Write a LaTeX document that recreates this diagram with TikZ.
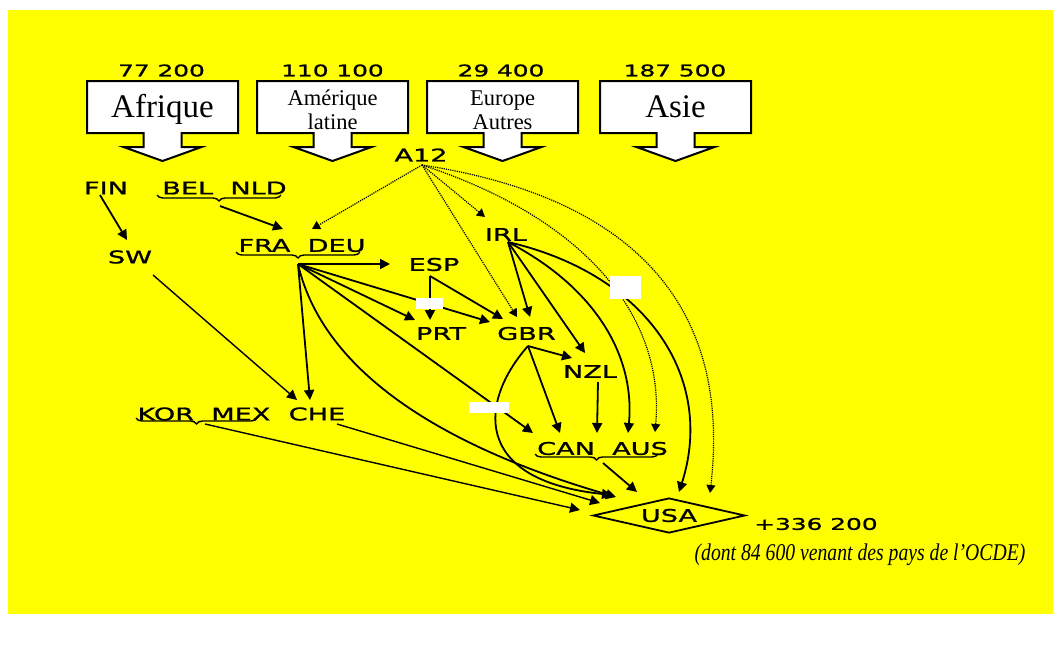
\documentclass[tikz,border=0pt]{standalone}
\usepackage{fontspec}
\usetikzlibrary{arrows.meta,decorations.pathreplacing,shapes.geometric}
\newfontfamily\labfont[FakeStretch=1.55,FakeBold=1.2]{DejaVu Sans}
\newfontfamily\boxfont{Liberation Serif}
\newfontfamily\notefont[FakeStretch=0.82]{Liberation Serif}
\definecolor{bgyellow}{RGB}{255,255,0}
\tikzset{
  lab/.style={font=\labfont\fontsize{17.5}{20}\selectfont, inner sep=0pt},
  num/.style={font=\labfont\fontsize{16}{19}\selectfont, inner sep=0pt},
  bigsrc/.style={font=\boxfont\fontsize{33}{36}\selectfont, inner sep=0pt, anchor=base},
  smallsrc/.style={font=\boxfont\fontsize{22.5}{24}\selectfont, inner sep=0pt, align=center},
  arr/.style={-{Triangle[length=10pt,width=10pt]}, line width=1.8pt},
  thinarr/.style={-{Triangle[length=10pt,width=10pt]}, line width=1.4pt},
  darr/.style={-{Triangle[length=8pt,width=9pt]}, line width=1.2pt, densely dotted},
  brc/.style={decorate, decoration={brace, mirror, amplitude=6pt}, line width=1.4pt},
  srcshape/.style={draw, fill=white, line width=2pt, line join=miter},
  hider/.style={fill=white, draw=none}
}
\begin{document}
\begin{tikzpicture}[x=1pt,y=-1pt]
\useasboundingbox (0,0) rectangle (1053,646);
\fill[white] (0,0) rectangle (1053,646);
\fill[bgyellow] (8,10) rectangle (1053,614);

% source boxes with arrows
\foreach \cx in {162.5,332.5,502.5,675.5}{
  \draw[srcshape] (\cx-75.5,81) -- (\cx+75.5,81) -- (\cx+75.5,133) -- (\cx+19,133) -- (\cx+19,147)
    -- (\cx+39,147) -- (\cx,161) -- (\cx-39,147) -- (\cx-19,147) -- (\cx-19,133) -- (\cx-75.5,133) -- cycle;
}
\node[bigsrc] (afr) at (162.5,117) {Afrique};
\node[smallsrc] (aml) at (332.5,110) {Amérique\\latine};
\node[smallsrc] (eur) at (502.5,110) {Europe\\Autres};
\node[bigsrc] (asi) at (675.5,117) {Asie};
\node[num] (nafr) at (161.5,70.5) {77 200};
\node[num] (naml) at (332.5,70.5) {110 100};
\node[num] (neur) at (501,70.5) {29 400};
\node[num] (nasi) at (675,70.5) {187 500};

% country labels
\node[lab] (a12) at (421,155) {A12};
\node[lab] (fin) at (106,188) {FIN};
\node[lab] (belnld) at (224.5,188) {BEL~~NLD};
\node[lab] (sw) at (130,257) {SW};
\node[lab] (fradeu) at (302,245.5) {FRA~~DEU};
\node[lab] (esp) at (434,264.5) {ESP};
\node[lab] (irl) at (506,234.5) {IRL};
\node[lab] (prt) at (441,333.5) {PRT};
\node[lab] (gbr) at (526.5,333.5) {GBR};
\node[lab] (nzl) at (590,371.5) {NZL};
\node[lab] (kormex) at (204,414) {KOR~~MEX};
\node[lab] (che) at (317,414) {CHE};
\node[lab] (canaus) at (602.5,448.5) {CAN~~AUS};
\node[lab, draw, diamond, aspect=4.3, minimum width=152pt, minimum height=35pt, line width=1.8pt] (usa) at (669,515.5) {USA};
\node[num] (total) at (816,524) {+336 200};
\node[font=\notefont\itshape\fontsize{24}{26}\selectfont, inner sep=0pt] (note) at (860,555) {(dont 84 600 venant des pays de l’OCDE)};

% braces
\draw[brc] (157,195) -- (281,195);
\draw[brc] (236,252) -- (360,252);
\draw[brc] (136,418) -- (257,418);
\draw[brc] (535,454) -- (658,454);

% connector end points
\coordinate (finS) at (100,195);
\coordinate (swT) at (127,240);
\coordinate (belB) at (220,206);
\coordinate (fraT) at (283,229);
\coordinate (aO) at (422,165);
\coordinate (fraT2) at (312,229);
\coordinate (fraO) at (298,264);
\coordinate (espT) at (390,264);
\coordinate (cheT1) at (310,400);
\coordinate (swS) at (153,275);
\coordinate (cheT2) at (297,400);
\coordinate (prtT1) at (415,320);
\coordinate (gbrT1) at (490,322);
\coordinate (canT1) at (533,433);
\coordinate (usaT1) at (616,497);
\coordinate (espO) at (430,276);
\coordinate (prtT2) at (430,320);
\coordinate (gbrT2) at (503,319);
\coordinate (irlT) at (485,217);
\coordinate (gbrT3) at (517,317);
\coordinate (ausT1) at (655,432);
\coordinate (usaT2) at (710,493);
\coordinate (irlO) at (508,242);
\coordinate (gbrT4) at (530,317);
\coordinate (nzlT1) at (585,353);
\coordinate (ausT2) at (628,433);
\coordinate (usaT3) at (679,492);
\coordinate (gbrO) at (528,346);
\coordinate (nzlT2) at (572,358);
\coordinate (canT2) at (560,433);
\coordinate (usaT4) at (612,495);
\coordinate (nzlS) at (598,382);
\coordinate (ausT3) at (597,433);
\coordinate (korB) at (205,424);
\coordinate (usaT5) at (580,510);
\coordinate (cheS) at (337,424);
\coordinate (usaT6) at (600,503);
\coordinate (canB) at (603,463);
\coordinate (usaT7) at (637,492);

% connectors
\draw[arr] (finS) -- (swT);
\draw[arr] (belB) -- (fraT);
\draw[darr] (aO) -- (fraT2);
\draw[arr] (fraO) -- (espT);
\draw[arr] (fraO) -- (cheT1);
\draw[thinarr] (swS) -- (cheT2);
\draw[arr] (fraO) -- (prtT1);
\draw[arr] (fraO) -- (gbrT1);
\draw[arr] (fraO) -- (canT1);
\draw[arr] (fraO) .. controls (320,360) and (420,440) .. (usaT1);
\draw[arr] (espO) -- (prtT2);
\draw[arr] (espO) -- (gbrT2);
\draw[darr] (aO) -- (irlT);
\draw[darr] (aO) -- (gbrT3);
\draw[darr] (aO) .. controls (590,220) and (665,320) .. (ausT1);
\draw[darr] (aO) .. controls (650,200) and (730,320) .. (usaT2);
\draw[arr] (irlO) -- (gbrT4);
\draw[arr] (irlO) -- (nzlT1);
\draw[arr] (irlO) .. controls (600,290) and (635,360) .. (ausT2);
\draw[arr] (irlO) .. controls (650,275) and (715,380) .. (usaT3);
\draw[arr] (gbrO) -- (nzlT2);
\draw[arr] (gbrO) -- (canT2);
\draw[arr] (gbrO) .. controls (480,400) and (470,480) .. (usaT4);
\draw[arr] (nzlS) -- (ausT3);
\draw[thinarr] (korB) -- (usaT5);
\draw[thinarr] (cheS) -- (usaT6);
\draw[arr] (canB) -- (usaT7);

% white patches
\fill[hider] (416,298) rectangle (443,309);
\fill[hider] (469,402) rectangle (509,413);
\fill[hider] (610,276) rectangle (641,299);
\end{tikzpicture}
\end{document}
